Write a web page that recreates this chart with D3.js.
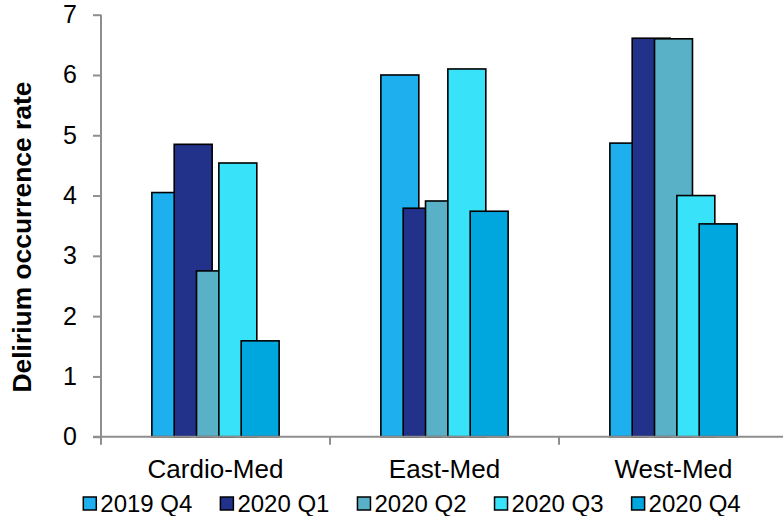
<!DOCTYPE html>
<html>
<head>
<meta charset="utf-8">
<script src="https://cdn.jsdelivr.net/npm/d3@7"></script>
<style>
  body { margin: 0; background: #fff; }
  text { font-family: Arial, "Liberation Sans", sans-serif; fill: #000; }
</style>
</head>
<body>
<div id="chart"></div>
<script>
const categories = ["Cardio-Med", "East-Med", "West-Med"];
const seriesNames = ["2019 Q4", "2020 Q1", "2020 Q2", "2020 Q3", "2020 Q4"];
const q4_2019 = [4.05, 6.00, 4.87];
const q1_2020 = [4.85, 3.79, 6.61];
const q2_2020 = [2.75, 3.91, 6.60];
const q3_2020 = [4.54, 6.10, 4.00];
const q4_2020 = [1.59, 3.74, 3.53];
const yTicks = [0, 1, 2, 3, 4, 5, 6, 7];
const colors = ["#1EB0EE", "#22318A", "#59B1C8", "#38E3FA", "#00A6DE"];

const width = 783, height = 516;
const values = [q4_2019, q1_2020, q2_2020, q3_2020, q4_2020];

let svg = d3.select("#chart").append("svg")
  .attr("width", width)
  .attr("height", height);

// Scales
let x0 = d3.scaleBand()
  .domain(categories)
  .range([101, 788])
  .padding(0);

let y = d3.scaleLinear()
  .domain([0, 7])
  .range([436.7, 14.7]);

// bars overlap: step between series is smaller than bar width
let bw = x0.bandwidth();
let step = bw * 0.0975;
let barW = step * 1.7;
let groupW = step * 4 + barW;
let offset = (bw - groupW) / 2;

let x1 = d3.scaleBand()
  .domain(seriesNames)
  .range([offset, offset + step * seriesNames.length])
  .padding(0);

// Bars, one series after another so later ones sit on top
seriesNames.forEach((s, si) => {
  svg.append("g")
    .selectAll("rect")
    .data(categories.map((c, ci) => ({cat: c, v: values[si][ci]})))
    .join("rect")
    .attr("x", d => x0(d.cat) + x1(s))
    .attr("y", d => y(d.v))
    .attr("width", barW)
    .attr("height", d => y(0) - y(d.v))
    .attr("fill", colors[si])
    .attr("stroke", "#000")
    .attr("stroke-width", 1.6);
});

// Y axis
let yAxis = svg.append("g")
  .attr("transform", "translate(101,0)")
  .call(d3.axisLeft(y).tickValues(yTicks).tickSize(8).tickPadding(16).tickFormat(d3.format("d")));
yAxis.select(".domain").attr("stroke", "#8E8E8E").attr("stroke-width", 2)
  .attr("d", "M0," + y(7) + "V" + (y(0) + 8));
yAxis.selectAll(".tick line").attr("stroke", "#8E8E8E").attr("stroke-width", 2);
yAxis.selectAll(".tick text")
  .attr("font-size", 25)
  .attr("font-family", "Arial, 'Liberation Sans', sans-serif")
  .attr("fill", "#000");

// X axis line and category boundary ticks
svg.append("line")
  .attr("x1", 93).attr("x2", width)
  .attr("y1", y(0)).attr("y2", y(0))
  .attr("stroke", "#8E8E8E").attr("stroke-width", 2);

svg.selectAll(".xtick")
  .data(categories.slice(1))
  .join("line")
  .attr("class", "xtick")
  .attr("x1", d => x0(d)).attr("x2", d => x0(d))
  .attr("y1", y(0)).attr("y2", y(0) + 8)
  .attr("stroke", "#8E8E8E").attr("stroke-width", 2);

// Category labels
svg.selectAll(".cat")
  .data(categories)
  .join("text")
  .attr("class", "cat")
  .attr("x", d => x0(d) + bw / 2)
  .attr("y", 478)
  .attr("text-anchor", "middle")
  .attr("font-size", 26)
  .text(d => d);

// Y title
svg.append("text")
  .attr("transform", "translate(31," + 237 + ") rotate(-90)")
  .attr("text-anchor", "middle")
  .attr("font-size", 26.4)
  .attr("font-weight", "bold")
  .text("Delirium occurrence rate");

// Legend
let legend = svg.append("g");
let lx = 83.3;
seriesNames.forEach((s, i) => {
  let g = legend.append("g").attr("transform", "translate(" + lx + ",0)");
  g.append("rect")
    .attr("x", 0).attr("y", 497)
    .attr("width", 13).attr("height", 13)
    .attr("fill", colors[i])
    .attr("stroke", "#000")
    .attr("stroke-width", 1.5);
  let t = g.append("text")
    .attr("x", 17)
    .attr("y", 511.5)
    .attr("font-size", 24)
    .text(s);
  lx += 17 + t.node().getComputedTextLength() + 28;
});
</script>
</body>
</html>
